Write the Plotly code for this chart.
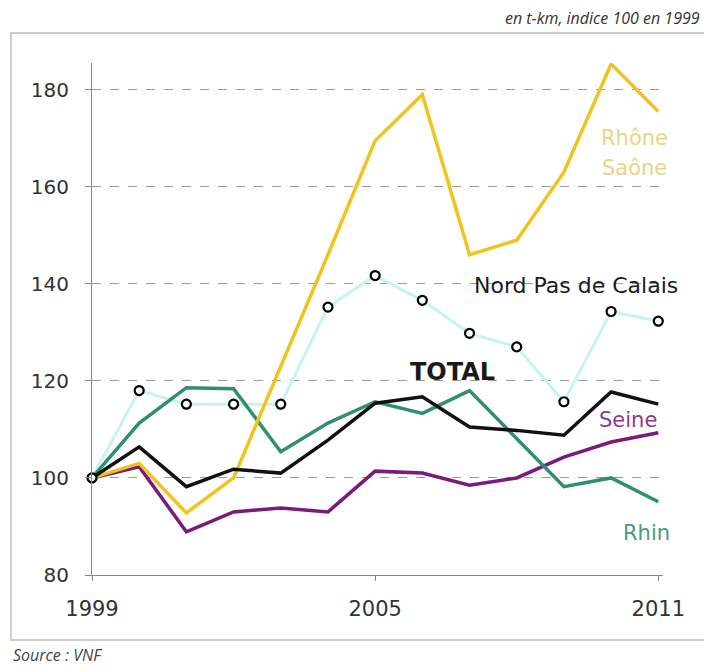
import plotly.graph_objects as go

years = list(range(1999, 2012))
rhone_saone = [100, 103, 92.8, 100, 123, 146, 169.5, 179, 146, 149, 163, 185.3, 175.5]
nord_pas_de_calais = [100, 118, 115.2, 115.2, 115.2, 135.2, 141.7, 136.6, 129.8, 127, 115.7, 134.3, 132.3]
rhin = [100, 111.3, 118.6, 118.4, 105.4, 111.3, 115.7, 113.3, 118, 108, 98.2, 100, 95.1]
total = [100, 106.4, 98.2, 101.8, 101, 107.8, 115.4, 116.7, 110.5, 109.8, 108.8, 117.7, 115.2]
seine = [100, 102.3, 88.9, 93, 93.8, 93, 101.4, 101, 98.5, 100, 104.3, 107.4, 109.3]

x_ticks = [1999, 2005, 2011]
y_ticks = [80, 100, 120, 140, 160, 180]

YELLOW = "#f2c31c"
CYAN = "#c6f4ee"
GREEN = "#2f8f6e"
PURPLE = "#7a1a7c"
BLACK = "#111111"
FONT = "DejaVu Sans, sans-serif"
ITALIC_FONT = "Open Sans, sans-serif"

fig = go.Figure()
fig.add_trace(go.Scatter(x=years, y=nord_pas_de_calais, mode="lines",
                         line=dict(color=CYAN, width=3), cliponaxis=False))
fig.add_trace(go.Scatter(x=years, y=seine, mode="lines",
                         line=dict(color=PURPLE, width=3.5), cliponaxis=False))
fig.add_trace(go.Scatter(x=years, y=rhin, mode="lines",
                         line=dict(color=GREEN, width=3.5), cliponaxis=False))
fig.add_trace(go.Scatter(x=years, y=rhone_saone, mode="lines",
                         line=dict(color=YELLOW, width=3.5), cliponaxis=False))
fig.add_trace(go.Scatter(x=years, y=total, mode="lines",
                         line=dict(color=BLACK, width=3.5), cliponaxis=False))
fig.add_trace(go.Scatter(x=years, y=nord_pas_de_calais, mode="markers",
                         marker=dict(symbol="circle", size=9, color="white",
                                     line=dict(color="black", width=2.2)),
                         cliponaxis=False))

# the page body has an 8px margin: figure is sized so plot lands at page px 92..663 x 63..575
fig.update_layout(
    width=704, height=659,
    margin=dict(l=84, r=49, t=55, b=92),
    paper_bgcolor="white", plot_bgcolor="white",
    showlegend=False,
    font=dict(family=FONT, size=22, color="#333333"),
    xaxis=dict(range=[1999, 2011.1], tickvals=x_ticks, ticktext=[str(v) for v in x_ticks],
               showgrid=False, zeroline=False, showline=True, linecolor="#888888",
               linewidth=1, ticks="outside", ticklen=5, tickcolor="#888888",
               ticklabelstandoff=10,
               tickfont=dict(family=FONT, size=21, color="#333333")),
    yaxis=dict(range=[80, 185.5], tickvals=y_ticks, showgrid=True,
               gridcolor="#9a9a9a", griddash="dash", gridwidth=1, zeroline=False,
               showline=True, linecolor="#888888", linewidth=1, ticks="outside",
               ticklen=6, tickcolor="#888888", ticklabelstandoff=12,
               tickfont=dict(family=FONT, size=20, color="#333333")),
)

# frame around the chart
fig.add_shape(type="rect", xref="paper", yref="paper",
              x0=-0.142, x1=1.077, y0=-0.127, y1=1.0586,
              line=dict(color="#cccccc", width=2), fillcolor="rgba(0,0,0,0)", layer="below")

ann = [
    dict(x=2010.49, y=170.0, text="Rhône", color="#ead48a", size=21),
    dict(x=2010.49, y=163.95, text="Saône", color="#ead48a", size=21),
    dict(x=2009.25, y=139.7, text="Nord Pas de Calais", color="#1a1a1a", size=22),
    dict(x=2006.63, y=121.8, text="<b>TOTAL</b>", color="#1a1a1a", size=24),
    dict(x=2010.35, y=111.9, text="Seine", color="#8c3a8c", size=21),
    dict(x=2010.74, y=88.6, text="Rhin", color="#4a9a80", size=21),
]
for a in ann:
    fig.add_annotation(x=a["x"], y=a["y"], xref="x", yref="y", text=a["text"],
                       showarrow=False, font=dict(family=FONT, size=a["size"], color=a["color"]),
                       xanchor="center", yanchor="middle")

pw, ph = 571, 512
def px_to_paper(px, py):
    return (px - 92) / pw, (575 - py) / ph

sx, sy = px_to_paper(702, 18)
fig.add_annotation(x=sx, y=sy, xref="paper", yref="paper", text="<i>en t-km, indice 100 en 1999</i>",
                   showarrow=False, xanchor="right", yanchor="middle",
                   font=dict(family=ITALIC_FONT, size=16, color="#333333"))
sx, sy = px_to_paper(11, 655)
fig.add_annotation(x=sx, y=sy, xref="paper", yref="paper", text="<i>Source : VNF</i>",
                   showarrow=False, xanchor="left", yanchor="middle",
                   font=dict(family=ITALIC_FONT, size=16, color="#444444"))

fig.write_html("out.html")
